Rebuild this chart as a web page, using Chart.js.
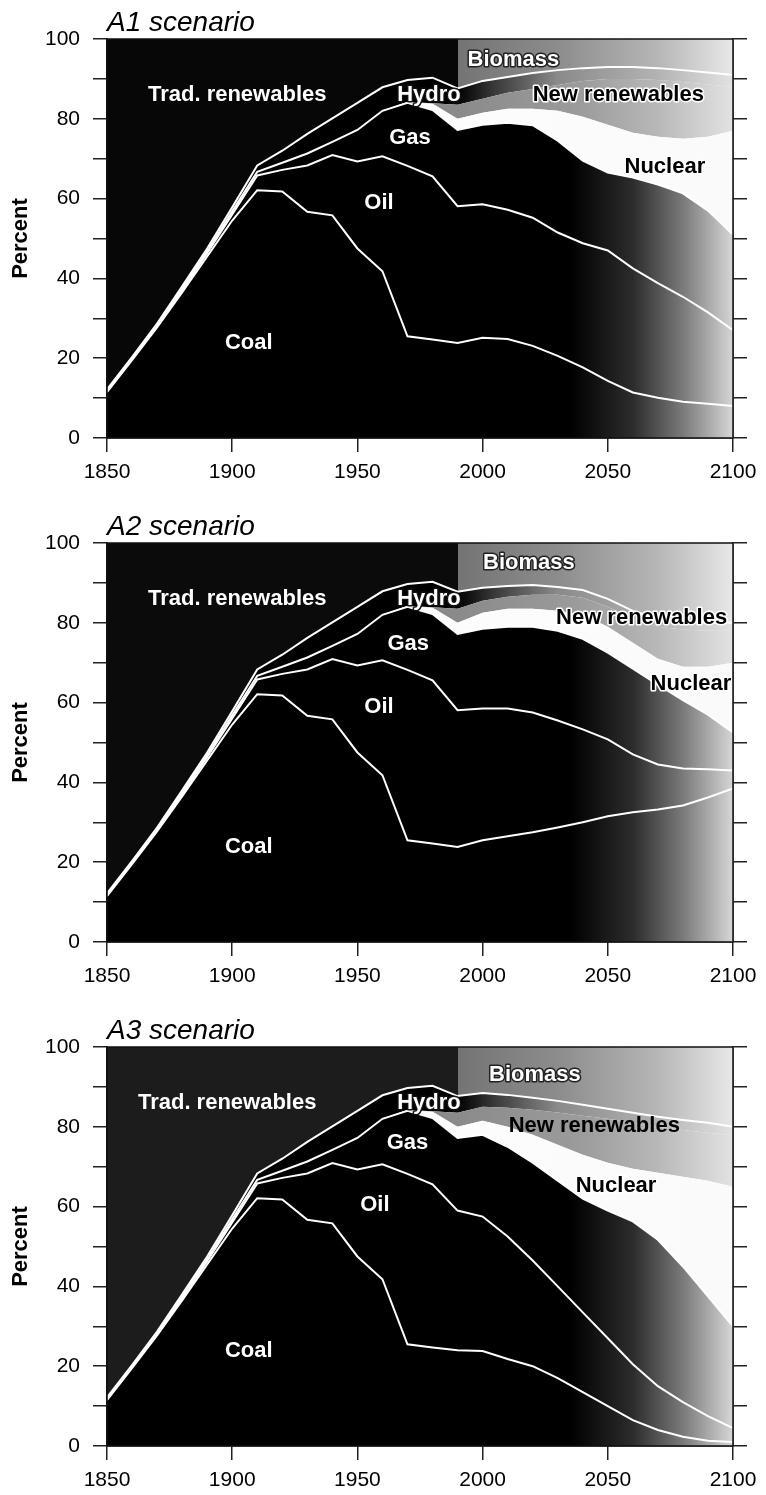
<!DOCTYPE html>
<html>
<head>
<meta charset="utf-8">
<title>Primary energy shares, A1 / A2 / A3 scenarios</title>
<script src="https://cdn.jsdelivr.net/npm/chart.js@4.4.1/dist/chart.umd.min.js"></script>
<style>
  html, body { margin: 0; padding: 0; background: #fff; }
  canvas { display: block; }
</style>
</head>
<body>
<canvas id="chartA1" width="766" height="504"></canvas>
<canvas id="chartA2" width="766" height="504"></canvas>
<canvas id="chartA3" width="766" height="487"></canvas>
<script>
'use strict';

/* ---- DATA (cumulative percent, top edge of each band) ---------- */
const histYears   = [1850, 1860, 1870, 1880, 1890, 1900, 1910, 1920, 1930, 1940, 1950, 1960, 1970, 1980];
const futureYears = [1990, 2000, 2010, 2020, 2030, 2040, 2050, 2060, 2070, 2080, 2090, 2100];

const histCoal    = [11.5, 19.5, 27.7, 36.5, 45.5, 54.5, 62.1, 61.8, 56.7, 55.8, 47.5, 41.8, 25.5, 24.7];
const histOil     = [11.7, 19.8, 28.0, 37.0, 46.3, 56.0, 65.8, 67.2, 68.3, 70.9, 69.3, 70.6, 68.2, 65.6];
const histGas     = [11.9, 20.0, 28.3, 37.4, 46.8, 56.8, 66.7, 69.0, 71.3, 74.2, 77.2, 82.0, 84.0, 82.2];
const histNuclear = [11.9, 20.0, 28.3, 37.4, 46.8, 56.8, 66.7, 69.0, 71.3, 74.2, 77.2, 82.0, 84.2, 83.8];
const histNewRen  = [11.9, 20.0, 28.3, 37.4, 46.8, 56.8, 66.7, 69.0, 71.3, 74.2, 77.2, 82.0, 84.2, 83.9];
const histHydro   = [12.2, 20.3, 28.7, 38.0, 47.5, 57.8, 68.3, 72.0, 76.2, 80.1, 84.0, 87.9, 89.7, 90.3];

const a1Coal    = [23.8, 25.1, 24.8, 23.1, 20.6, 17.7, 14.3, 11.4, 10.1, 9.1, 8.6, 8.0];
const a1Oil     = [58.1, 58.6, 57.2, 55.2, 51.5, 48.8, 47.0, 42.5, 38.8, 35.4, 31.5, 27.0];
const a1Gas     = [77.2, 78.5, 79.0, 78.4, 74.5, 69.5, 66.5, 65.3, 63.5, 61.3, 57.0, 51.0];
const a1Nuclear = [80.0, 81.5, 82.5, 82.5, 82.0, 80.5, 78.5, 76.5, 75.5, 75.0, 75.5, 77.0];
const a1NewRen  = [83.5, 85.0, 86.5, 87.5, 88.5, 89.5, 90.0, 90.0, 89.7, 89.2, 88.6, 88.0];
const a1Hydro   = [87.6, 89.5, 90.5, 91.5, 92.2, 92.7, 93.0, 93.0, 92.7, 92.2, 91.6, 91.0];

const a2Coal    = [23.8, 25.5, 26.5, 27.5, 28.7, 30.0, 31.5, 32.5, 33.2, 34.2, 36.2, 38.5];
const a2Oil     = [58.1, 58.5, 58.5, 57.5, 55.5, 53.3, 50.8, 47.0, 44.5, 43.5, 43.3, 43.0];
const a2Gas     = [77.2, 78.5, 79.0, 79.0, 78.0, 76.0, 72.5, 68.5, 64.5, 60.6, 57.0, 52.5];
const a2Nuclear = [80.0, 82.5, 83.5, 83.5, 83.0, 82.0, 79.0, 75.0, 71.0, 69.0, 69.0, 70.0];
const a2NewRen  = [83.5, 85.5, 86.5, 87.0, 87.0, 86.3, 84.0, 81.0, 79.0, 78.3, 78.0, 78.0];
const a2Hydro   = [87.8, 88.8, 89.2, 89.5, 89.0, 88.2, 86.0, 83.0, 81.0, 80.3, 80.1, 80.0];

const a3Coal    = [24.0, 23.8, 21.8, 20.0, 17.0, 13.5, 10.0, 6.5, 4.0, 2.3, 1.3, 1.0];
const a3Oil     = [59.0, 57.5, 52.5, 46.5, 40.0, 33.5, 27.0, 20.5, 15.0, 11.0, 7.5, 4.5];
const a3Gas     = [77.2, 78.0, 75.0, 71.0, 66.5, 62.0, 59.0, 56.3, 51.7, 45.0, 37.5, 30.0];
const a3Nuclear = [80.0, 81.5, 80.0, 78.0, 75.5, 73.0, 71.0, 69.5, 68.5, 67.5, 66.5, 65.0];
const a3NewRen  = [83.5, 85.0, 84.8, 84.3, 83.6, 82.8, 82.0, 81.0, 80.0, 79.2, 78.5, 77.8];
const a3Hydro   = [87.7, 88.5, 88.0, 87.3, 86.5, 85.5, 84.5, 83.5, 82.5, 81.7, 81.0, 80.0];

const yTicksLabelled = [0, 20, 40, 60, 80, 100];
const xTickLabels = [1850, 1900, 1950, 2000, 2050, 2100];

/* ---- STYLE ------------------------------------------------------ */
const FONT = '"Liberation Sans", Arial, Helvetica, sans-serif';
const PLOT_TOP = 39;
const PLOT_BOTTOM = 438;

// horizontal colour ramps, keyed by year
const FOSSIL_RAMP  = [[1850, '#000'], [2035, '#000'], [2060, '#2c2c2c'], [2080, '#7a7a7a'], [2100, '#d6d6d6']];
const NUCLEAR_RAMP = [[1850, '#fff'], [2100, '#fafafa']];
const NEWREN_RAMP  = [[1850, '#8a8a8a'], [1990, '#8a8a8a'], [2040, '#9c9c9c'], [2070, '#b8b8b8'], [2100, '#e2e2e2']];
const HYDRO_RAMP   = [[1850, '#000'], [1990, '#000'], [2005, '#3a3a3a'], [2030, '#8a8a8a'], [2070, '#b3b3b3'], [2100, '#e2e2e2']];

function topRamp(histShade) {
  return [[1850, histShade], [1990, histShade], [1990, '#747474'], [2030, '#8c8c8c'], [2070, '#b6b6b6'], [2100, '#e8e8e8']];
}

function ramp(stops) {
  return (c) => {
    const chart = c.chart;
    const area = chart.chartArea;
    if (!area) return '#000';
    const xs = chart.scales.x;
    const w = area.right - area.left;
    const g = chart.ctx.createLinearGradient(area.left, 0, area.right, 0);
    stops.forEach(([year, col]) => {
      const off = (xs.getPixelForValue(year) - area.left) / w;
      g.addColorStop(Math.min(1, Math.max(0, off)), col);
    });
    return g;
  };
}

function pts(hist, future) {
  const ys = histYears.concat(futureYears);
  const vs = hist.concat(future);
  return ys.map((y, i) => ({ x: y, y: vs[i] }));
}

function band(label, data, fill, bg, lineColor, lineWidth) {
  return {
    label, data, fill,
    backgroundColor: ramp(bg),
    borderColor: lineColor || 'rgba(0,0,0,0)',
    borderWidth: lineWidth || 0,
    pointRadius: 0,
    tension: 0
  };
}

/* ---- in-area labels + title + frame ------------------------------ */
const areaLabels = {
  id: 'areaLabels',
  afterDatasetsDraw(chart, args, opts) {
    const { ctx, chartArea, scales } = chart;
    ctx.save();
    ctx.font = `bold 22px ${FONT}`;
    ctx.textAlign = 'center';
    ctx.textBaseline = 'middle';
    ctx.lineJoin = 'round';
    (opts.items || []).forEach(it => {
      const x = scales.x.getPixelForValue(it.year);
      const y = scales.y.getPixelForValue(it.pct);
      if (it.halo) {
        ctx.lineWidth = 3;
        ctx.strokeStyle = it.halo;
        ctx.strokeText(it.text, x, y);
      }
      ctx.fillStyle = it.color;
      ctx.fillText(it.text, x, y);
    });
    // frame
    ctx.strokeStyle = '#111';
    ctx.lineWidth = 1.5;
    ctx.strokeRect(chartArea.left, chartArea.top, chartArea.right - chartArea.left, chartArea.bottom - chartArea.top);
    // panel title
    ctx.font = `italic 28px ${FONT}`;
    ctx.textAlign = 'left';
    ctx.textBaseline = 'alphabetic';
    ctx.fillStyle = '#000';
    ctx.fillText(opts.title, chartArea.left, 31);
    ctx.restore();
  }
};

function labelsFor(p) {
  return [
    { text: 'Trad. renewables', year: p.trad[0], pct: p.trad[1], color: '#fff' },
    { text: 'Biomass', year: p.bio[0], pct: p.bio[1], color: '#fff', halo: '#222' },
    { text: 'Hydro', year: 1978.6, pct: 86.0, color: '#fff', halo: '#111' },
    { text: 'New renewables', year: p.newren[0], pct: p.newren[1], color: '#000', halo: p.newrenHalo },
    { text: 'Gas', year: p.gas[0], pct: p.gas[1], color: '#fff' },
    { text: 'Nuclear', year: p.nuc[0], pct: p.nuc[1], color: '#000', halo: '#fff' },
    { text: 'Oil', year: p.oil[0], pct: p.oil[1], color: '#fff' },
    { text: 'Coal', year: 1906.6, pct: 23.7, color: '#fff' }
  ];
}

function makeChart(id, title, series, labelPos, histShade) {
  const canvas = document.getElementById(id);
  const H = canvas.height;
  const tickGrid = { display: true, drawOnChartArea: false, drawTicks: true, tickLength: 14, color: '#222', lineWidth: 1.5 };
  return new Chart(canvas, {
    type: 'line',
    data: {
      datasets: [
        band('Coal', pts(histCoal, series.coal), 'origin', FOSSIL_RAMP, '#fff', 2),
        band('Oil', pts(histOil, series.oil), '-1', FOSSIL_RAMP, '#fff', 2),
        band('Gas', pts(histGas, series.gas), '-1', FOSSIL_RAMP, '#fff', 2),
        band('Nuclear', pts(histNuclear, series.nuclear), '-1', NUCLEAR_RAMP),
        band('New renewables', pts(histNewRen, series.newren), '-1', NEWREN_RAMP),
        band('Hydro', pts(histHydro, series.hydro), '-1', HYDRO_RAMP, '#fff', 2),
        band('Trad. renewables / Biomass', histYears.concat(futureYears).map(y => ({ x: y, y: 100 })), '-1', topRamp(histShade))
      ]
    },
    options: {
      responsive: false,
      animation: false,
      layout: { padding: { top: PLOT_TOP, right: 19, left: 0, bottom: 0 } },
      plugins: {
        legend: { display: false },
        tooltip: { enabled: false },
        filler: { drawTime: 'beforeDatasetsDraw' },
        areaLabels: { title, items: labelsFor(labelPos) }
      },
      scales: {
        x: {
          type: 'linear', min: 1850, max: 2100,
          afterBuildTicks: s => { s.ticks = xTickLabels.map(v => ({ value: v })); },
          ticks: { color: '#000', font: { family: FONT, size: 21 }, padding: 8, maxRotation: 0, callback: v => String(v) },
          grid: tickGrid,
          border: { display: true, color: '#111', width: 1.5 },
          afterFit: s => { s.height = H - PLOT_BOTTOM; }
        },
        y: {
          min: 0, max: 100,
          ticks: {
            stepSize: 10, color: '#000', font: { family: FONT, size: 21 }, padding: 13,
            callback: v => (yTicksLabelled.includes(v) ? String(v) : '')
          },
          grid: tickGrid,
          border: { display: true, color: '#111', width: 1.5 },
          title: { display: true, text: 'Percent', color: '#000', font: { family: FONT, size: 22, weight: 'bold' }, padding: { top: 8, bottom: 0 } },
          afterFit: s => { s.width = 107; }
        },
        y2: {
          position: 'right', min: 0, max: 100,
          ticks: { display: false, stepSize: 10 },
          grid: tickGrid,
          border: { display: true, color: '#111', width: 1.5 },
          afterFit: s => { s.width = 14; }
        }
      }
    },
    plugins: [areaLabels]
  });
}

makeChart('chartA1', 'A1 scenario',
  { coal: a1Coal, oil: a1Oil, gas: a1Gas, nuclear: a1Nuclear, newren: a1NewRen, hydro: a1Hydro },
  { trad: [1902, 85.9], bio: [2012.3, 94.7], newren: [2054.2, 85.9], newrenHalo: '#fff', gas: [1971, 75.1], nuc: [2072.8, 67.9], oil: [1958.6, 58.8] },
  '#070707');

makeChart('chartA2', 'A2 scenario',
  { coal: a2Coal, oil: a2Oil, gas: a2Gas, nuclear: a2Nuclear, newren: a2NewRen, hydro: a2Hydro },
  { trad: [1902, 85.9], bio: [2018.5, 94.9], newren: [2063.5, 81.1], newrenHalo: '#fff', gas: [1970.3, 74.8], nuc: [2083.2, 64.8], oil: [1958.6, 58.8] },
  '#0b0b0b');

makeChart('chartA3', 'A3 scenario',
  { coal: a3Coal, oil: a3Oil, gas: a3Gas, nuclear: a3Nuclear, newren: a3NewRen, hydro: a3Hydro },
  { trad: [1898, 86.0], bio: [2020.9, 93.1], newren: [2044.6, 80.2], newrenHalo: null, gas: [1970, 76.0], nuc: [2053.3, 65.1], oil: [1957, 60.5] },
  '#1c1c1c');
</script>
</body>
</html>
